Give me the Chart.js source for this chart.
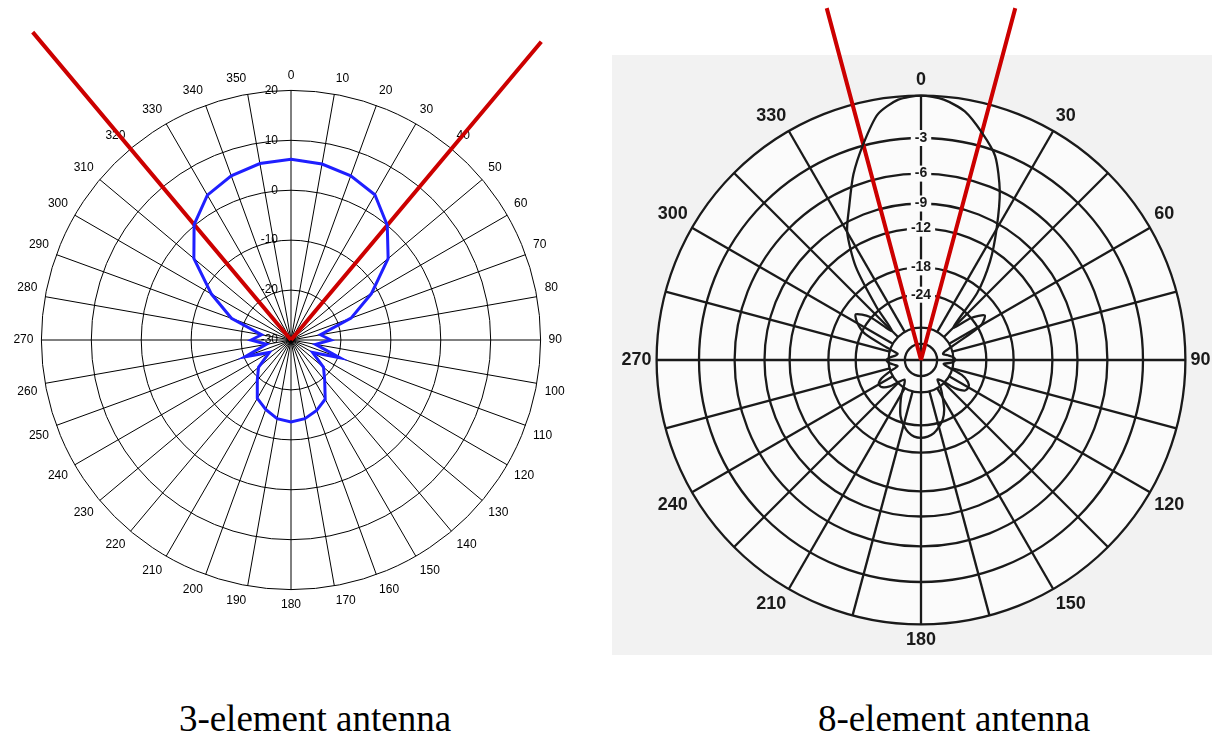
<!DOCTYPE html>
<html>
<head>
<meta charset="utf-8">
<title>Antenna patterns</title>
<script src="https://cdn.jsdelivr.net/npm/chart.js@4.4.1/dist/chart.umd.min.js"></script>
<style>
  html, body { margin: 0; padding: 0; background: #fff; }
  body { width: 1212px; height: 736px; position: relative; overflow: hidden; }
  #scan { position: absolute; left: 612px; top: 55px; width: 600px; height: 600px; background: #f2f2f2; }
  #left { position: absolute; left: 0; top: 0; }
  #right { position: absolute; left: 590px; top: 0; }
  .caption {
    position: absolute; top: 700px; width: 400px; text-align: center;
    font-family: "Liberation Serif", "Times New Roman", serif; font-size: 37px; line-height: 37px; color: #000;
  }
</style>
</head>
<body>
<div id="scan"></div>
<canvas id="left" width="600" height="660" style="width:600px;height:660px"></canvas>
<canvas id="right" width="641" height="670" style="width:641px;height:670px"></canvas>
<div class="caption" style="left:115px">3-element antenna</div>
<div class="caption" style="left:754px">8-element antenna</div>
<script>
// ---- 3-element beam: azimuth (deg) and gain (dB), 10 degree steps
const az3 = [0, 10, 20, 30, 40, 50, 60, 70, 80, 90, 100, 110, 120, 130, 140, 150, 160, 170,
             180, 190, 200, 210, 220, 230, 240, 250, 260, 270, 280, 290, 300, 310, 320, 330, 340, 350];
const gain3 = [6.2, 5.8, 5.0, 3.6, 0.0, -4.6, -11.4, -17.2, -24, -22, -25, -19.6, -25, -21.5, -19.5, -16.3, -15, -14,
               -13.6, -14, -15.2, -16.5, -19.5, -21.5, -25, -20.2, -25, -22, -24, -17.3, -11.6, -4.6, 0.2, 3.5, 5.0, 5.9];
const rings3 = [-30, -20, -10, 0, 10, 20];
// beamwidth markers and how far out each is drawn (dB units)
const beam3 = [320, 40];
const beam3Reach = [50.5, 48];

// ---- 8-element beam: azimuth (deg) and relative response (dB), 5 degree steps
const az8 = [0, 5, 10, 15, 20, 25, 30, 35, 40, 45, 50, 55, 60, 65, 70, 75, 80, 85,
             90, 95, 100, 105, 110, 115, 120, 125, 130, 135, 140, 145, 150, 155, 160, 165, 170, 175,
             180, 185, 190, 195, 200, 205, 210, 215, 220, 225, 230, 235, 240, 245, 250, 255, 260, 265,
             270, 275, 280, 285, 290, 295, 300, 305, 310, 315, 320, 325, 330, 335, 340, 345, 350, 355];
const gain8 = [0, -0.2, -0.8, -2.0, -3.4, -6.0, -9.6, -13.5, -19, -30, -24, -21, -23, -33, -40, -42, -39, -36,
               -35, -37, -42, -38, -31, -28, -27, -27.5, -31, -38, -40, -35, -31, -27, -24.5, -23, -21.8, -21.2,
               -21, -21.2, -22, -23.5, -25.5, -29, -33, -38, -40, -37, -32, -29.5, -29, -31, -36, -41, -39, -36,
               -35, -37, -40, -41, -34, -25, -22, -20.6, -23.5, -32, -23, -14.5, -10.0, -7.6, -5.0, -2.9, -1.0, -0.2];
const rings8 = [-48, -36, -24, -18, -12, -9, -6, -3, 0];
const ringLabels8 = ['', '', '-24', '-18', '-12', '-9', '-6', '-3', ''];
const spokeInner8 = -36;
const beam8 = [345, 15];
const beam8Reach = 5.5;

// ARRL style log-periodic radius: every 2 dB shrinks the radius to 0.89
const chartRadius = db => Math.pow(0.89, -db / 2);

// a two point ray from the centre out to the given azimuth
function ray(angles, azimuth, centre, reach) {
  return angles.map((a, i) => (i === 0 ? centre : (a === azimuth ? reach : null)));
}

// ring values written just left of the vertical axis
const ringValueLabels = {
  id: 'ringValueLabels',
  beforeDatasetsDraw(chart) {
    const r = chart.scales.r;
    const ctx = chart.ctx;
    ctx.save();
    ctx.font = '12px "Liberation Sans", Arial, sans-serif';
    ctx.fillStyle = '#000';
    ctx.textAlign = 'right';
    ctx.textBaseline = 'middle';
    r.ticks.forEach(t => {
      const d = r.getDistanceFromCenterForValue(t.value);
      ctx.fillText(String(t.value), r.xCenter - 13, r.yCenter - d);
    });
    ctx.restore();
  }
};

// paper inside the outer ring, and the 15 degree spokes that stop short of the centre
const chartFace = {
  id: 'chartFace',
  beforeDraw(chart) {
    const r = chart.scales.r;
    const ctx = chart.ctx;
    ctx.save();
    ctx.fillStyle = '#fbfbfb';
    ctx.beginPath();
    ctx.arc(r.xCenter, r.yCenter, r.drawingArea, 0, Math.PI * 2);
    ctx.fill();
    ctx.restore();
  },
  beforeDatasetsDraw(chart) {
    const r = chart.scales.r;
    const ctx = chart.ctx;
    const inner = r.getDistanceFromCenterForValue(chartRadius(spokeInner8));
    ctx.save();
    ctx.strokeStyle = '#1a1a1a';
    ctx.lineWidth = 2.3;
    az8.forEach((a, i) => {
      if (a % 15 !== 0 || a % 90 === 0) return;
      const p0 = r.getPointPosition(i, inner);
      const p1 = r.getPointPosition(i, r.drawingArea);
      ctx.beginPath();
      ctx.moveTo(p0.x, p0.y);
      ctx.lineTo(p1.x, p1.y);
      ctx.stroke();
    });
    ctx.restore();
  }
};

const common = {
  responsive: false,
  animation: false,
  events: [],
  plugins: { legend: { display: false }, tooltip: { enabled: false } },
  elements: { point: { radius: 0 }, line: { fill: false } }
};

new Chart(document.getElementById('left'), {
  type: 'radar',
  data: {
    labels: az3.map(String),
    datasets: [
      { data: gain3, borderColor: '#1f1fff', borderWidth: 3 },
      { data: ray(az3, beam3[0], rings3[0], beam3Reach[0]), borderColor: '#cc0000', borderWidth: 4, spanGaps: true, clip: false },
      { data: ray(az3, beam3[1], rings3[0], beam3Reach[1]), borderColor: '#cc0000', borderWidth: 4, spanGaps: true, clip: false }
    ]
  },
  options: {
    ...common,
    layout: { padding: { left: 9, right: 31, top: 68, bottom: 48 } },
    scales: {
      r: {
        min: rings3[0],
        max: rings3[rings3.length - 1],
        ticks: { stepSize: 10, display: false },
        grid: { circular: true, color: '#000', lineWidth: 1 },
        angleLines: { color: '#000', lineWidth: 1 },
        pointLabels: { color: '#000', padding: 8, font: { family: '"Liberation Sans", Arial, sans-serif', size: 12 } }
      }
    }
  },
  plugins: [ringValueLabels]
});

new Chart(document.getElementById('right'), {
  type: 'radar',
  data: {
    labels: az8.map(a => (a % 30 === 0 ? String(a) : '')),
    datasets: [
      { data: gain8.map(chartRadius), borderColor: '#1a1a1a', borderWidth: 2.3, tension: 0.25 },
      { data: ray(az8, beam8[0], 0, chartRadius(beam8Reach)), borderColor: '#cc0000', borderWidth: 4, spanGaps: true, clip: false },
      { data: ray(az8, beam8[1], 0, chartRadius(beam8Reach)), borderColor: '#cc0000', borderWidth: 4, spanGaps: true, clip: false }
    ]
  },
  options: {
    ...common,
    layout: { padding: { left: 26, right: 14, top: 70, bottom: 18 } },
    scales: {
      r: {
        min: 0,
        max: 1,
        afterBuildTicks: scale => {
          scale.ticks = [0].concat(rings8.map(chartRadius)).map(v => ({ value: v }));
        },
        ticks: {
          callback: (v, i) => (i === 0 ? '' : ringLabels8[i - 1]),
          color: '#1a1a1a',
          font: { family: '"Liberation Sans", Arial, sans-serif', size: 14, weight: 'bold' },
          showLabelBackdrop: c => !!(c.tick && c.tick.label),
          backdropColor: '#fbfbfb',
          backdropPadding: { x: 4, y: 1 }
        },
        grid: { circular: true, color: '#1a1a1a', lineWidth: 2.3 },
        angleLines: { color: '#1a1a1a', lineWidth: c => (c.index % 18 === 0 ? 2.3 : 0) },
        pointLabels: { color: '#1a1a1a', padding: -3, font: { family: '"Liberation Sans", Arial, sans-serif', size: 18, weight: 'bold' } }
      }
    }
  },
  plugins: [chartFace]
});
</script>
</body>
</html>
